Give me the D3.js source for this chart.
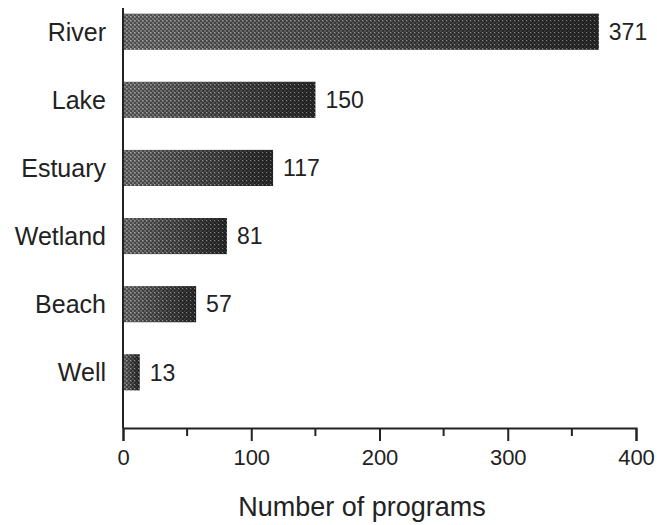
<!DOCTYPE html>
<html><head><meta charset="utf-8">
<script src="https://cdn.jsdelivr.net/npm/d3@7"></script>
<style>body{margin:0;background:#fff}svg{display:block}text{font-family:"Liberation Sans",Arial,sans-serif;fill:#222}</style>
</head><body>
<script>
const categories = ["River","Lake","Estuary","Wetland","Beach","Well"];
const values = [371,150,117,81,57,13];
const xTicks = [0,100,200,300,400];
const minorTicks = [50,150,250,350];
const xTitle = "Number of programs";

const W=657,H=525;
const m={l:123,r:21,t:0,b:97};
const svg=d3.select("body").append("svg").attr("width",W).attr("height",H);
const defs=svg.append("defs");
const grad=defs.append("linearGradient").attr("id","g").attr("x1","0").attr("x2","1");
grad.append("stop").attr("offset","0").attr("stop-color","#7a7a7a");
grad.append("stop").attr("offset","1").attr("stop-color","#2c2c2c");
const pat=defs.append("pattern").attr("id","p").attr("width",4).attr("height",4).attr("patternUnits","userSpaceOnUse");
pat.append("rect").attr("width",2).attr("height",2).attr("fill","#000").attr("opacity",0.35);
pat.append("rect").attr("x",2).attr("y",2).attr("width",2).attr("height",2).attr("fill","#000").attr("opacity",0.35);
pat.append("rect").attr("x",2).attr("y",0).attr("width",1).attr("height",1).attr("fill","#fff").attr("opacity",0.4);

const x=d3.scaleLinear().domain([0,400]).range([m.l,W-m.r]);
const y=d3.scaleBand().domain(categories).range([-2,406]).paddingInner(0.47).paddingOuter(0.23);

const g=svg.append("g");
g.selectAll("rect.bar").data(values).join("rect").attr("class","bar")
 .attr("x",x(0)).attr("y",(d,i)=>y(categories[i])).attr("width",d=>x(d)-x(0)).attr("height",y.bandwidth())
 .attr("fill","url(#g)");
g.selectAll("rect.tex").data(values).join("rect").attr("class","tex")
 .attr("x",x(0)).attr("y",(d,i)=>y(categories[i])).attr("width",d=>x(d)-x(0)).attr("height",y.bandwidth())
 .attr("fill","url(#p)");
g.selectAll("text.val").data(values).join("text").attr("class","val")
 .attr("x",d=>x(d)+10).attr("y",(d,i)=>y(categories[i])+y.bandwidth()/2).attr("dy","0.36em")
 .attr("font-size",23).text(d=>d);
g.selectAll("text.cat").data(categories).join("text").attr("class","cat")
 .attr("x",106).attr("y",d=>y(d)+y.bandwidth()/2).attr("dy","0.36em").attr("text-anchor","end")
 .attr("font-size",25).text(d=>d);

const axY=428;
const ax=svg.append("g").attr("transform",`translate(0,${axY})`)
 .call(d3.axisBottom(x).tickValues(xTicks).tickSize(13).tickPadding(8).tickFormat(d3.format("d")));
ax.select(".domain").attr("stroke","#222").attr("stroke-width",2);
ax.selectAll(".tick line").attr("stroke","#222").attr("stroke-width",2);
ax.selectAll(".tick text").attr("font-size",22).attr("fill","#222");
svg.append("g").selectAll("line").data(minorTicks).join("line")
 .attr("x1",d=>x(d)).attr("x2",d=>x(d)).attr("y1",axY).attr("y2",axY+8).attr("stroke","#222").attr("stroke-width",2);
svg.append("line").attr("x1",x(0)).attr("x2",x(0)).attr("y1",8).attr("y2",axY).attr("stroke","#222").attr("stroke-width",2);
svg.append("text").attr("x",362).attr("y",516).attr("text-anchor","middle").attr("font-size",27).text(xTitle);
</script>
</body></html>
